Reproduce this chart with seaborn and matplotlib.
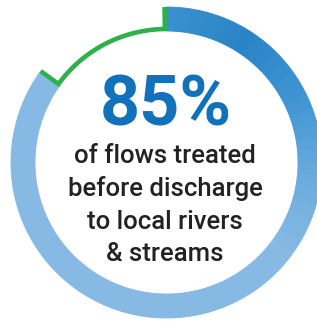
import numpy as np
import matplotlib
matplotlib.use("Agg")
import matplotlib.pyplot as plt
from matplotlib.patches import Wedge
import seaborn as sns

# share of flows: treated vs not
shares = [85, 15]
headline = "85%"
caption_lines = ["of flows treated", "before discharge", "to local rivers", "& streams"]

sns.set_theme(style="white")
plt.rcParams["font.family"] = ["Roboto", "DejaVu Sans"]

W, H = 317, 322
fig = plt.figure(figsize=(W / 100, H / 100), dpi=100)
ax = fig.add_axes([0, 0, 1, 1])
ax.set_xlim(0, W)
ax.set_ylim(0, H)
ax.set_aspect("equal")
ax.axis("off")

cx, cy = 166.5, H - 162.5
r_out, ring_w = 155.5, 24

# blue arc, with a gradient: darker near the top right, lighter elsewhere
treated_deg = 360 * shares[0] / sum(shares)
n_seg = 180
edges = np.linspace(0, treated_deg, n_seg + 1)
ramp = sns.blend_palette(["#3890ce", "#2a83c6", "#3f95d2", "#6aaadd", "#86b9e4"], 50)
for a0, a1 in zip(edges[:-1], edges[1:]):
    mid = (a0 + a1) / 2
    idx = int(np.clip(mid / 125 * (len(ramp) - 1), 0, len(ramp) - 1))
    col = ramp[idx]
    ax.add_patch(Wedge((cx, cy), r_out, 90 - a1, 90 - a0, width=ring_w,
                       facecolor=col, edgecolor=col, linewidth=0.6))

# green outline for the untreated share
r_in = r_out - ring_w + 2
start = np.deg2rad(treated_deg)
ang = np.linspace(treated_deg, 359.3, 80)
th = np.deg2rad(ang)
xs = [cx + r_out * np.sin(start)] + list(cx + r_in * np.sin(th)) + [cx + r_out * np.sin(th[-1])]
ys = [cy + r_out * np.cos(start)] + list(cy + r_in * np.cos(th)) + [cy + r_out * np.cos(th[-1])]
ax.plot(xs, ys, color="#2db14b", linewidth=3.3, solid_joinstyle="miter",
        solid_capstyle="butt")

ax.text(166, H - 125, headline, ha="center", va="baseline", fontsize=50.5,
        fontweight="bold", color="#1271bb")

baselines = [163, 196, 229, 261]
for line, by in zip(caption_lines, baselines):
    ax.text(165, H - by, line, ha="center", va="baseline", fontsize=18.5,
            fontweight="medium", color="#222222")

fig.savefig("out.png", dpi=100)
